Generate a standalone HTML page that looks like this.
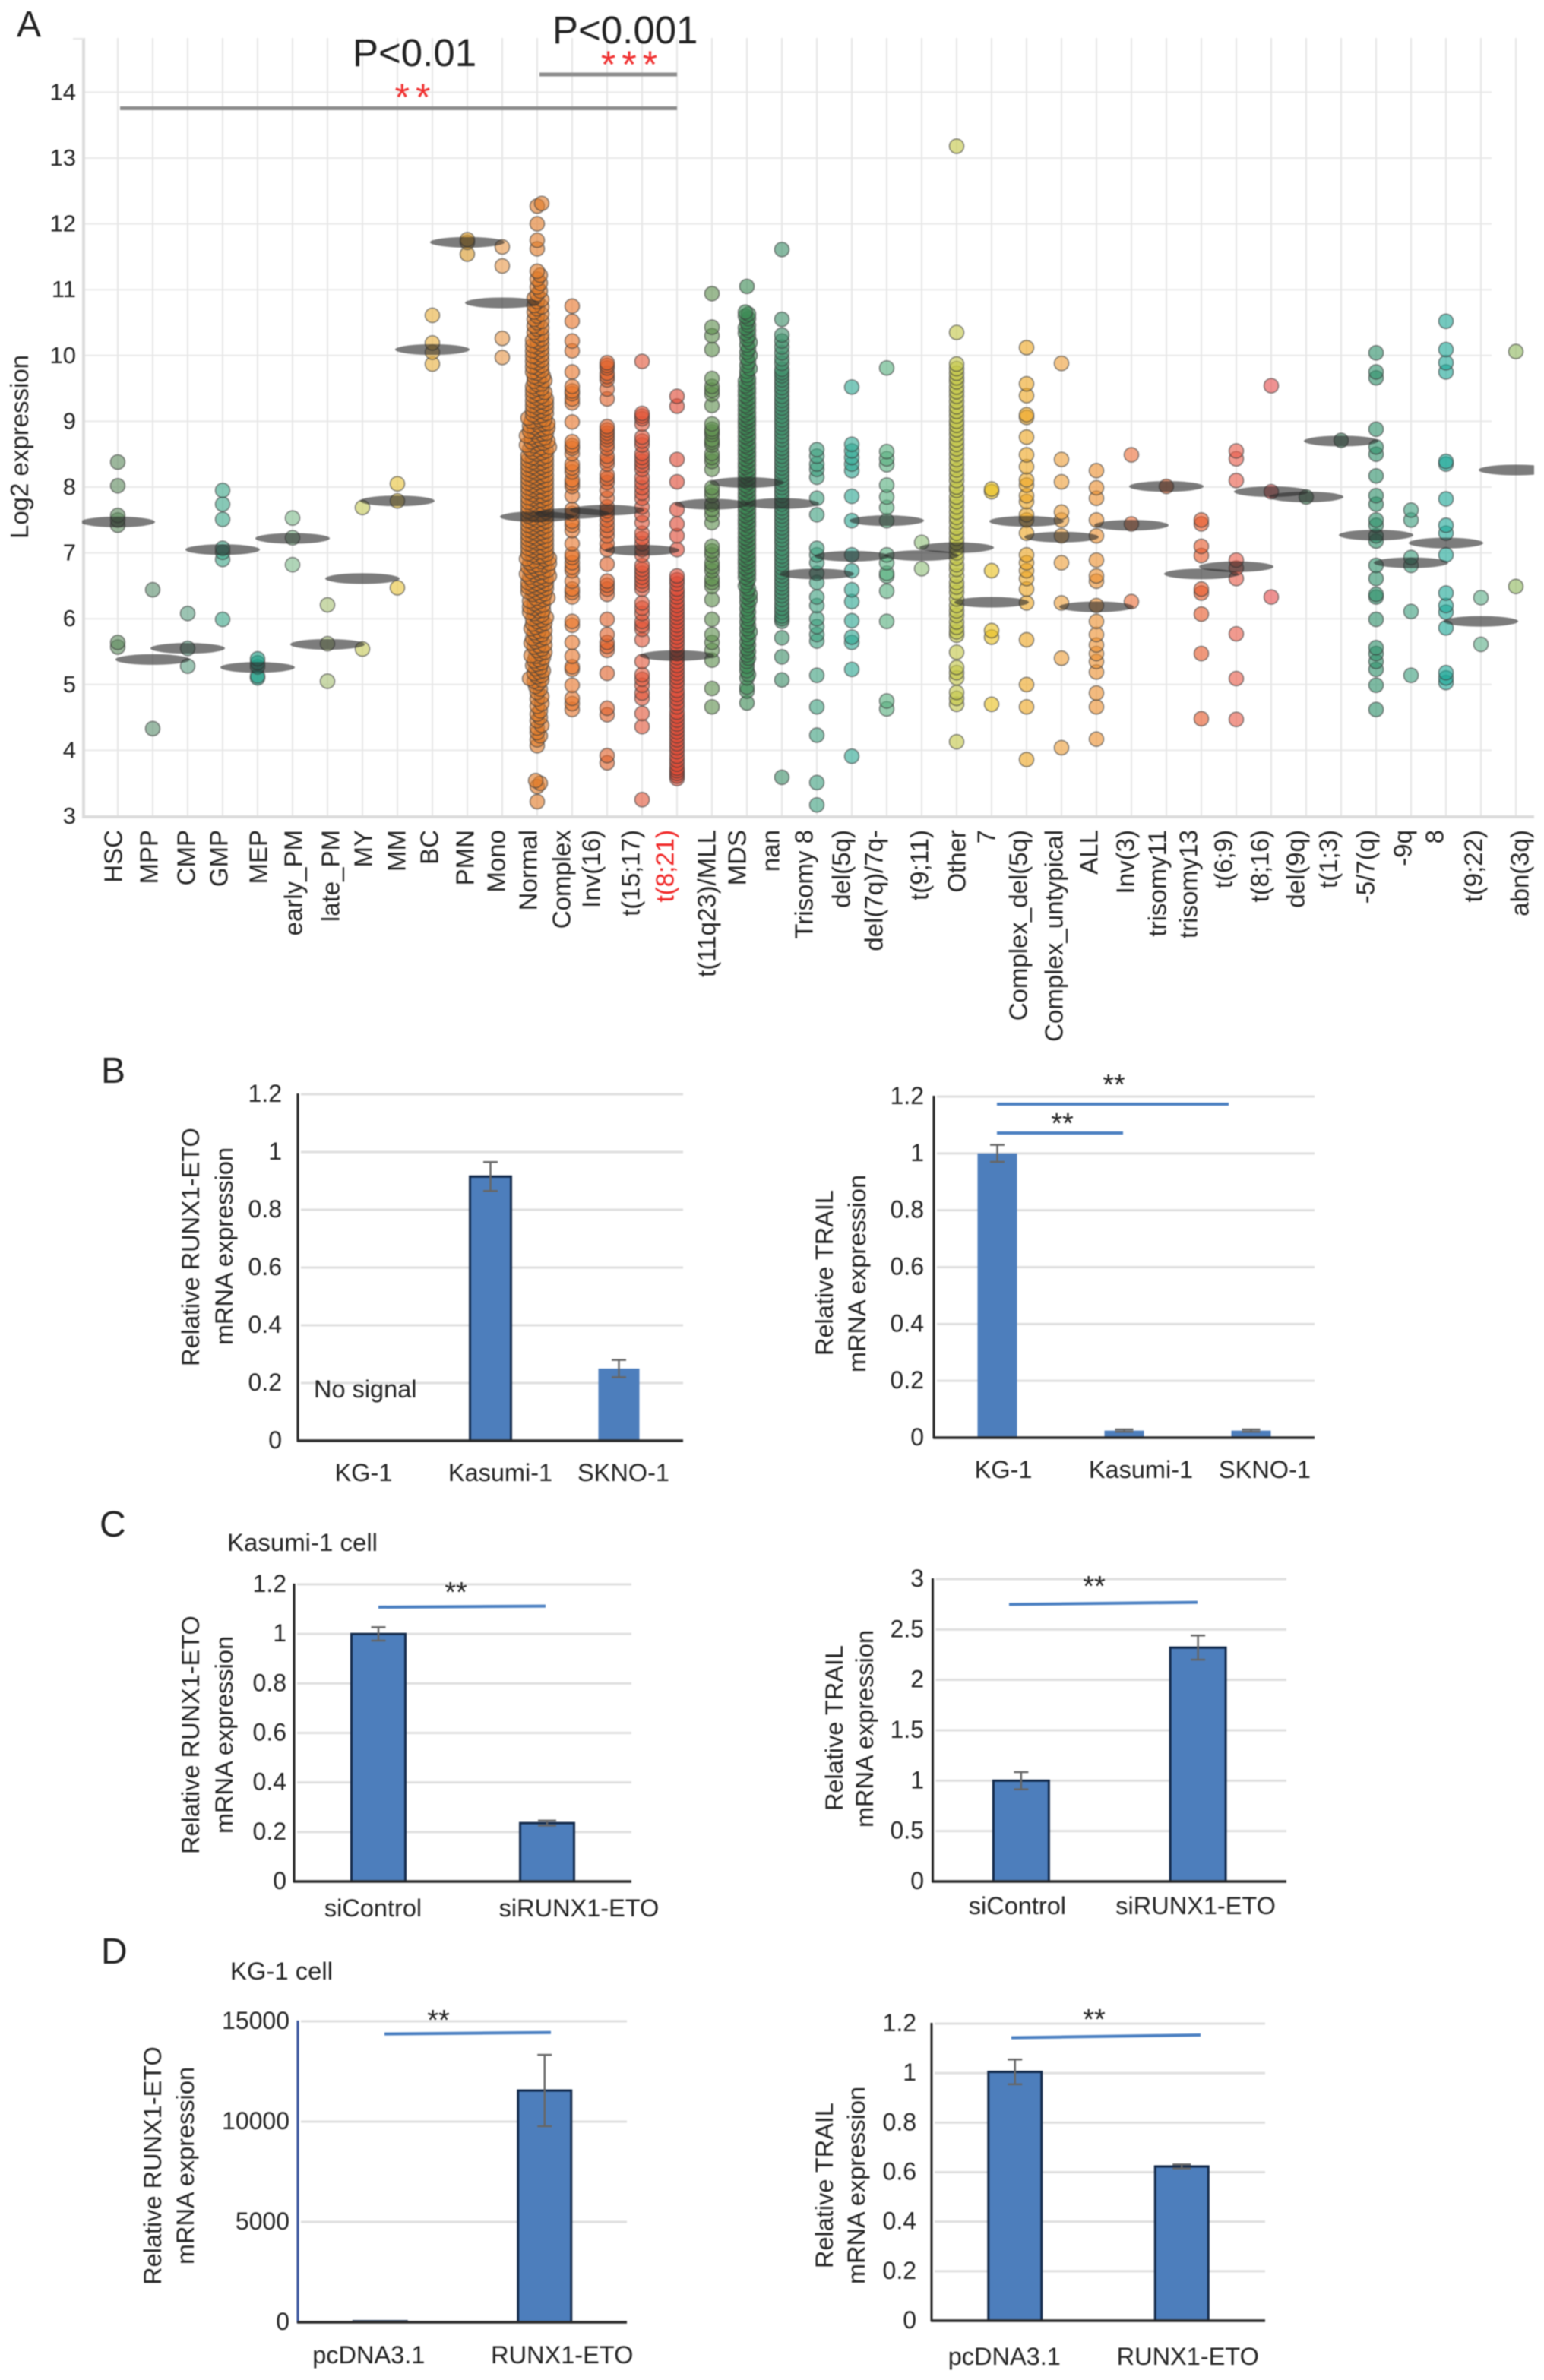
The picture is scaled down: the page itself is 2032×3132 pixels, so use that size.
<!DOCTYPE html>
<html lang="en">
<head>
<meta charset="utf-8">
<title>RUNX1-ETO and TRAIL expression figure</title>
<style>
html,body{margin:0;padding:0;background:#fff;width:2032px;height:3132px;overflow:hidden}
svg{display:block;filter:blur(0.7px)}
text{font-family:"Liberation Sans",sans-serif;fill:#222}
</style>
</head>
<body>
<svg id="fig" xmlns="http://www.w3.org/2000/svg" width="2032" height="3132" viewBox="0 0 2032 3132">
<rect x="0" y="0" width="2032" height="3132" fill="#fff"/>
<defs><clipPath id="plotClip"><rect x="108" y="40" width="1911" height="1040"/></clipPath></defs>
</svg>
<script>
/* ---------- Panel A data ---------- */
const categories = ["HSC","MPP","CMP","GMP","MEP","early_PM","late_PM","MY","MM","BC","PMN","Mono","Normal","Complex","Inv(16)","t(15;17)","t(8;21)","t(11q23)/MLL","MDS","nan","Trisomy 8","del(5q)","del(7q)/7q-","t(9;11)","Other","7","Complex_del(5q)","Complex_untypical","ALL","Inv(3)","trisomy11","trisomy13","t(6;9)","t(8;16)","del(9q)","t(1;3)","-5/7(q)","-9q","8","t(9;22)","abn(3q)"];
const yTickLabels = [14,13,12,11,10,9,8,7,6,5,4,3];
const groupMeans = [7.47,5.38,5.55,7.05,5.26,7.22,5.61,6.61,7.79,10.09,11.72,10.8,7.55,7.6,7.65,7.04,5.44,7.74,8.07,7.75,6.68,6.95,7.49,6.96,7.08,6.25,7.48,7.24,6.18,7.42,8.01,6.68,6.79,7.93,7.85,8.7,7.27,6.85,7.15,5.96,8.26];

const hsc = [8.38,8.02,7.57,7.42,7.5,5.64,5.57];
const mpp = [6.44,4.33];
const cmp = [6.08,5.55,5.28];
const gmp = [7.95,7.74,7.51,7.07,7.01,6.9,5.99];
const mep = [5.39,5.33,5.27,5.13,5.1];
const earlyPm = [7.53,7.23,6.82];
const latePm = [6.21,5.62,5.05];
const my = [7.69,5.54];
const mm = [8.05,7.79,6.47];
const bc = [10.61,10.19,10.05,9.87];
const pmn = [11.76,11.72,11.54];
const mono = [11.65,11.36,10.26,9.97];
const normal = [3.22,3.45,3.5,3.54,4.07,4.16,4.22,4.27,4.34,4.38,4.45,4.5,4.55,4.6,4.67,4.71,4.78,4.82,4.88,4.93,4.97,
5.02,5.05,5.09,5.14,5.17,5.21,5.26,5.29,5.33,5.38,5.41,5.44,5.49,5.52,5.57,5.6,5.63,5.68,5.71,5.74,5.79,5.82,5.85,5.9,5.93,5.96,6.0,6.03,6.06,6.1,6.13,6.16,6.19,6.23,6.26,6.29,6.32,6.35,6.38,
6.41,6.43,6.46,6.48,6.51,6.53,6.55,6.58,6.6,6.63,6.65,6.68,6.7,6.72,6.75,6.77,6.8,6.82,6.85,6.87,6.9,6.92,6.94,6.97,6.99,7.02,7.04,7.07,7.09,7.11,7.14,7.16,7.19,7.21,7.24,7.26,7.28,7.31,7.33,7.36,7.38,7.41,7.43,7.45,7.48,7.5,7.53,7.55,7.58,7.6,7.62,7.65,7.67,7.7,7.72,7.75,7.77,7.79,7.82,7.84,7.87,7.89,7.92,7.94,7.96,7.99,8.01,8.04,8.06,8.09,8.11,8.13,8.16,8.18,8.21,8.23,8.26,8.28,8.3,8.33,8.35,8.38,8.4,8.43,8.45,8.48,
8.52,8.55,8.58,8.61,8.64,8.67,8.7,8.73,8.76,8.79,8.82,8.85,8.88,8.91,8.94,8.97,9.0,9.03,9.07,9.1,9.14,9.17,9.21,9.24,9.28,9.31,9.35,9.38,9.42,9.46,9.49,9.53,9.57,9.61,9.65,9.69,9.73,9.77,9.81,9.85,9.89,9.93,9.97,10.01,10.05,10.09,10.13,10.17,10.21,10.25,10.3,10.35,10.4,10.45,10.5,10.55,10.6,10.66,10.71,10.76,10.82,10.87,10.93,10.98,11.04,11.1,11.16,11.22,11.28,11.62,11.75,12.0,12.27,12.31,
5.07,5.12,5.19,5.24,5.31,5.36,5.43,5.47,5.54,5.59,5.65,5.7,5.76,5.81,5.87,5.92,5.98,6.02,6.08,6.12,6.18,6.21,6.27,6.31,6.37,6.4,6.44,6.47,6.5,6.54,6.57,6.61,6.64,6.67,6.71,6.74,6.78,6.81,6.84,6.88,6.91,6.95,6.98,7.01,7.05,7.08,7.12,7.15,7.18,7.22,7.25,7.29,7.32,7.35,7.39,7.42,7.46,7.49,7.52,7.56,7.59,7.63,7.66,7.69,7.73,7.76,7.8,7.83,7.86,7.9,7.93,7.97,8.0,8.03,8.07,8.1,8.14,8.17,8.2,8.24,8.27,8.31,8.34,8.37,8.41,8.44,8.47,8.5,8.53,8.57,8.6,8.63,8.66,8.69,8.72,8.75,8.78,8.81,8.84,8.87,8.9,8.93,8.96,8.99,9.02,9.05,9.09,9.12,9.16,9.2,9.23,9.27,9.3,9.34,9.39,9.44,9.5,9.56,9.62,9.68,9.75,9.83,9.91,9.99,10.07,10.15,10.23,10.32,10.42,10.52,10.63,10.74,10.85];
const complexKaryotype = [10.75,10.52,10.22,10.07,9.75,9.53,9.46,9.34,9.28,8.99,8.69,8.59,8.51,8.35,8.23,8.11,8.01,7.87,7.66,7.42,7.34,7.14,6.93,6.85,6.73,6.57,6.45,6.33,5.96,5.9,5.64,5.43,5.23,4.99,4.79,4.71,4.62,9.42,8.63,8.29,8.06,7.6,7.48,6.98,6.78,6.4,5.27];
const inv16 = [9.89,9.81,9.73,9.63,9.49,9.34,8.92,8.82,8.72,8.59,8.47,8.35,8.19,8.07,7.95,7.83,7.7,7.58,7.42,7.26,7.14,7.05,6.83,6.57,6.45,6.37,5.99,5.76,5.64,5.52,5.17,4.64,4.54,3.92,3.81,9.85,9.68,8.87,8.77,8.65,8.41,8.13,7.64,7.5,7.34,6.51,5.58];
const t1517 = [9.91,9.12,9.04,8.96,8.76,8.64,8.51,8.39,8.27,8.15,7.99,7.83,7.7,7.58,7.46,7.3,7.14,6.97,6.81,6.69,6.57,6.45,6.24,6.08,5.96,5.84,5.68,5.35,5.15,4.99,4.87,4.79,4.56,4.36,3.25,9.08,8.7,8.45,8.33,8.07,7.91,7.22,7.05,6.75,6.63,6.51,6.16,5.9,5.08];
const t821 = [9.38,9.23,8.42,8.08,7.66,7.44,7.26,7.05,6.65,6.53,6.45,6.33,6.2,6.08,5.96,5.84,5.72,5.6,5.47,5.35,5.23,5.11,4.99,4.91,4.79,4.66,4.58,4.46,4.34,4.22,4.1,3.98,3.85,3.73,3.65,3.57,6.59,6.39,6.26,6.14,6.02,5.9,5.78,5.66,5.53,5.41,5.29,5.17,5.05,4.85,4.72,4.52,4.4,4.28,4.16,4.04,3.91,3.79,3.69,3.61];
const mll = [10.94,10.43,10.3,10.09,9.65,9.53,9.41,9.24,8.96,8.88,8.8,8.72,8.64,8.51,8.39,8.27,7.99,7.87,7.74,7.58,7.46,7.1,6.97,6.85,6.73,6.61,6.49,6.29,5.99,5.76,5.64,5.52,5.37,4.94,4.66,9.47,8.84,8.68,8.45,7.93,7.66,7.03,6.79,6.55];
const mds = [11.05,10.66,10.6,10.51,10.42,10.34,10.25,10.16,10.05,9.96,9.85,9.76,9.65,9.58,9.5,9.43,9.35,9.28,9.21,9.13,9.06,9.0,8.94,8.87,8.8,8.74,8.66,8.6,8.53,8.47,8.4,8.33,8.26,8.2,8.13,8.07,8.0,7.94,7.87,7.81,7.74,7.67,7.6,7.54,7.47,7.41,7.33,7.27,7.2,7.13,7.07,7.0,6.93,6.87,6.8,6.73,6.67,6.6,6.5,6.41,6.33,6.25,6.15,6.05,5.95,5.85,5.76,5.65,5.55,5.45,5.35,5.21,5.1,4.96,4.9,4.72,
10.63,10.56,10.46,10.38,10.3,10.2,10.1,10.0,9.9,9.8,9.7,9.61,9.54,9.46,9.39,9.31,9.24,9.17,9.1,9.03,8.97,8.91,8.84,8.77,8.7,8.63,8.56,8.5,8.43,8.36,8.3,8.23,8.17,8.1,8.03,7.97,7.9,7.84,7.77,7.7,7.64,7.57,7.5,7.44,7.37,7.3,7.23,7.17,7.1,7.03,6.97,6.9,6.84,6.77,6.7,6.63,6.55,6.46,6.37,6.29,6.2,6.1,6.0,5.9,5.8,5.7,5.6,5.5,5.4,5.28,5.15];
const nan = [11.61,10.55,10.31,10.22,10.13,10.04,9.88,9.79,9.69,9.57,9.45,9.32,9.2,9.08,8.96,8.84,8.72,8.59,8.47,8.35,8.23,8.11,7.99,7.87,7.74,7.62,7.5,7.38,7.26,7.14,7.01,6.89,6.77,6.65,6.53,6.41,6.29,6.16,6.04,5.96,5.71,5.42,5.07,3.59,9.95,9.74,9.63,9.51,9.38,9.26,9.14,9.02,8.9,8.78,8.65,8.53,8.41,8.29,8.17,8.05,7.93,7.8,7.68,7.56,7.44,7.32,7.2,7.07,6.95,6.83,6.71,6.59,6.47,6.35,6.22,6.1,6.0];
const trisomy8 = [8.57,8.47,8.35,8.27,8.15,7.83,7.58,7.07,6.97,6.85,6.69,6.55,6.33,6.2,6.0,5.88,5.76,5.66,5.14,4.66,4.23,3.51,3.17];
const del5q = [9.52,8.65,8.55,8.45,8.35,8.25,7.86,7.49,6.97,6.73,6.44,6.26,5.97,5.72,5.64,5.23,3.91];
const del7q = [9.81,8.54,8.43,8.34,8.03,7.85,7.69,7.49,6.97,6.85,6.69,6.65,6.42,5.96,4.75,4.63];
const t911 = [7.16,6.76];
const other = [13.18,10.35,9.87,9.8,9.73,9.66,9.6,9.52,9.45,9.38,9.3,9.22,9.15,9.08,9.0,8.94,8.87,8.8,8.72,8.65,8.58,8.5,8.42,8.34,8.26,8.18,8.1,8.0,7.95,7.85,7.78,7.7,7.62,7.54,7.47,7.38,7.3,7.22,7.15,7.07,7.0,6.92,6.82,6.75,6.65,6.55,6.48,6.4,6.3,6.2,6.12,6.05,5.95,5.87,5.8,5.75,5.49,5.26,5.18,5.1,4.88,4.79,4.7,4.13];
const seven = [7.97,7.93,6.73,5.82,5.72,4.7];
const complexDel5q = [10.12,9.57,9.39,9.1,9.06,8.76,8.49,8.31,8.11,8.03,7.87,7.78,7.58,7.5,7.3,6.97,6.85,6.73,6.61,6.45,6.24,5.68,5.0,4.66,3.86];
const complexUntypical = [9.88,8.42,8.08,7.62,7.5,7.26,6.85,6.24,5.4,4.04];
const all = [8.25,7.99,7.83,7.5,7.26,6.89,6.65,6.57,6.2,5.96,5.76,5.6,5.47,5.35,5.19,4.87,4.66,4.17];
const inv3 = [8.49,7.44,6.26];
const trisomy11 = [8.01];
const trisomy13 = [7.5,7.44,7.1,6.96,6.45,6.39,6.07,5.47,4.48];
const t69 = [8.55,8.43,8.1,6.89,6.77,6.61,5.77,5.09,4.47];
const t816 = [9.54,7.93,6.33];
const del9q = [7.85];
const t13 = [8.71];
const minus57q = [10.04,9.75,9.66,8.88,8.61,8.5,8.17,7.87,7.74,7.5,7.42,7.26,7.18,6.81,6.61,6.37,6.33,5.99,5.56,5.47,5.35,5.23,4.99,4.62];
const minus9q = [7.65,7.5,6.93,6.81,6.11,5.14];
const eight = [10.52,10.09,9.89,9.75,8.39,8.35,7.82,7.42,7.3,6.97,6.39,6.2,6.1,5.86,5.18,5.1,5.03];
const t922 = [6.32,5.61];
const abn3q = [10.06,6.49];

const groupSeries = [hsc,mpp,cmp,gmp,mep,earlyPm,latePm,my,mm,bc,pmn,mono,normal,complexKaryotype,inv16,t1517,t821,mll,mds,nan,trisomy8,del5q,del7q,t911,other,seven,complexDel5q,complexUntypical,all,inv3,trisomy11,trisomy13,t69,t816,del9q,t13,minus57q,minus9q,eight,t922,abn3q];

/* ---------- Bar chart data ---------- */
const b1Categories = ["KG-1","Kasumi-1","SKNO-1"];
const b1Values = [0,0.915,0.25];
const b1Errors = [0,0.05,0.03];
const b1Ticks = [0,0.2,0.4,0.6,0.8,1,1.2];

const b2Categories = ["KG-1","Kasumi-1","SKNO-1"];
const b2Values = [1,0.025,0.025];
const b2Errors = [0.03,0.004,0.004];
const b2Ticks = [0,0.2,0.4,0.6,0.8,1,1.2];

const c1Categories = ["siControl","siRUNX1-ETO"];
const c1Values = [1,0.236];
const c1Errors = [0.027,0.01];
const c1Ticks = [0,0.2,0.4,0.6,0.8,1,1.2];

const c2Categories = ["siControl","siRUNX1-ETO"];
const c2Values = [1,2.32];
const c2Errors = [0.085,0.12];
const c2Ticks = [0,0.5,1,1.5,2,2.5,3];

const d1Categories = ["pcDNA3.1","RUNX1-ETO"];
const d1Values = [50,11550];
const d1Errors = [0,1780];
const d1Ticks = [0,5000,10000,15000];

const d2Categories = ["pcDNA3.1","RUNX1-ETO"];
const d2Values = [1.005,0.623];
const d2Errors = [0.05,0.008];
const d2Ticks = [0,0.2,0.4,0.6,0.8,1,1.2];

/* ---------- Styling / layout for panel A ---------- */
const groupColors = ["#5f8a5f","#5d9070","#5fa085","#3fa88a","#1f9e86","#7fbb8c","#a9c178","#c6c95a","#e9c43c","#e9b03f","#d99a2c","#e89a4c","#e07a28","#e8762c","#e0622c","#e2573a","#df4b36","#5f8f4f","#3d8a55","#3f8f6a","#3fa080","#2fa893","#58b080","#93c27c","#c4c648","#e8c020","#eda624","#ee9f3c","#ec8f30","#ec6f3a","#c8501f","#e65a2c","#e85c4a","#e54f4f","#3a7a50","#3a7a5a","#2f8f6a","#3fa080","#1fa898","#5fb08a","#8fb85f"];
const labelNudge = [-6,-5,-2,-5,1,1,4,1,-1,-4,-3,-8,-12,-14,-21,-15,-16,-7,-13,-15,-17,-14,-17,-3,0,-7,-11,-10,-10,-8,-12,-17,-17,-15,-14,-17,-14,-11,-15,-10,5];
const swarmSpacing = {12:5.6, 18:4.5};

const svg = document.getElementById('fig');
const NS = 'http://www.w3.org/2000/svg';

function mk(tag, attrs, parent) {
  const el = document.createElementNS(NS, tag);
  for (const k in attrs) el.setAttribute(k, attrs[k]);
  (parent || svg).appendChild(el);
  return el;
}
function group(name, parent) {
  const g = mk('g', {}, parent);
  
  
  return g;
}
function label(parent, name, str, attrs) {
  const t = mk('text', attrs, parent);
  t.textContent = str;
  
  
  return t;
}
function line(parent, name, x1, y1, x2, y2, color, width) {
  const l = mk('line', {x1, y1, x2, y2, stroke: color, 'stroke-width': width}, parent);
  
  
  return l;
}
function slug(s) { return String(s).toLowerCase().replace(/[^a-z0-9]+/g, '-').replace(/^-|-$/g, ''); }

/* ---------- Panel A ---------- */
const X = i => 155 + i * 46;
const Y = v => 121.4 + (14 - v) * 86.6;

function swarm(values, spacing) {
  const sorted = values.slice().sort((a, b) => a - b);
  const placed = [];
  const step = 2;
  sorted.forEach(v => {
    const py = Y(v);
    let off = 0;
    if (spacing > 0) {
      for (let k = 0; k < 60; k++) {
        off = (k % 2 ? 1 : -1) * Math.ceil(k / 2) * step;
        const clash = placed.some(p => (p.off - off) ** 2 + (p.y - py) ** 2 < spacing * spacing);
        if (!clash) break;
      }
    }
    placed.push({off, y: py, v});
  });
  return placed;
}

(function drawPanelA() {
  const panel = group('panel-a');
  label(panel, 'panel-a-letter', 'A', {x: 22, y: 48, 'font-size': 48});

  const grid = group('panel-a-grid', panel);
  yTickLabels.forEach(v => {
    line(grid, 'gridline-y-' + v, 110, Y(v), 1963, Y(v), '#e9e9e9', 2);
  });
  categories.forEach((c, i) => {
    line(grid, 'gridline-x-' + slug(c), X(i), 50, X(i), 1073, '#e6e6e6', 2);
  });
  line(panel, 'y-axis-line', 110, 50, 110, 1075, '#dcdcdc', 4);
  line(panel, 'y-axis-top-tick', 96, 51, 110, 51, '#e6e6e6', 2);
  line(panel, 'x-axis-line', 108, 1075, 2019, 1075, '#dcdcdc', 4);

  yTickLabels.forEach(v => {
    label(panel, 'y-tick-' + v, v, {x: 100, y: Y(v) + 10, 'text-anchor': 'end', 'font-size': 31});
  });
  label(panel, 'y-axis-title', 'Log2 expression', {
    'text-anchor': 'middle', 'font-size': 33, textLength: 242, lengthAdjust: 'spacingAndGlyphs',
    transform: 'translate(37,588) rotate(-90)'
  });

  const dots = group('panel-a-points', panel);
  dots.setAttribute('clip-path', 'url(#plotClip)');
  groupSeries.forEach((vals, i) => {
    const g = group('points-' + slug(categories[i]), dots);
    swarm(vals, swarmSpacing[i] || 0).forEach(p => {
      const c = mk('circle', {
        cx: X(i) + p.off, cy: p.y, r: 9.5,
        fill: groupColors[i], 'fill-opacity': 0.62,
        stroke: '#3c3c3c', 'stroke-opacity': 0.6, 'stroke-width': 1.6
      }, g);
      
      
    });
  });

  const means = group('panel-a-group-means', panel);
  means.setAttribute('clip-path', 'url(#plotClip)');
  groupMeans.forEach((m, i) => {
    const e = mk('ellipse', {cx: X(i), cy: Y(m), rx: 49, ry: 7, fill: '#2c2c2c', 'fill-opacity': 0.62}, means);
    
    
  });

  categories.forEach((c, i) => {
    const red = c === 't(8;21)';
    const t = label(panel, 'x-label-' + slug(c), c, {
      'text-anchor': 'end', 'font-size': 33,
      transform: 'translate(' + (X(i) + labelNudge[i] + 11.5) + ',1092) rotate(-90)'
    });
    if (red) t.style.fill = '#f02424';
  });

  line(panel, 'significance-bar-normal-vs-all', 158, 142.5, 891, 142.5, '#8c8c8c', 5);
  line(panel, 'significance-bar-complex-vs-t821', 710, 98, 891, 98, '#8c8c8c', 5);
  label(panel, 'p-value-001', 'P<0.01', {x: 464, y: 87, 'font-size': 51});
  label(panel, 'p-value-0001', 'P<0.001', {x: 727, y: 57, 'font-size': 51});
  const s1 = label(panel, 'significance-stars-double', '**', {x: 547, y: 145, 'text-anchor': 'middle', 'font-size': 50, 'letter-spacing': 8});
  s1.style.fill = '#f03030';
  const s2 = label(panel, 'significance-stars-triple', '***', {x: 832, y: 102, 'text-anchor': 'middle', 'font-size': 50, 'letter-spacing': 8});
  s2.style.fill = '#f03030';
})();

/* ---------- Bar panels ---------- */
function drawBar(cfg) {
  const g = group(cfg.name);
  const maxV = cfg.ticks[cfg.ticks.length - 1];
  const y = v => cfg.base - (v / maxV) * (cfg.base - cfg.top);
  const band = (cfg.right - cfg.left) / cfg.categories.length;
  const cx = i => cfg.left + band * (i + 0.5);

  cfg.ticks.forEach(t => {
    if (t > 0) line(g, cfg.name + '-gridline-' + slug(t), cfg.left + 4, y(t), cfg.right, y(t), '#dfdfdf', 3);
    label(g, cfg.name + '-y-tick-' + slug(t), t, {x: cfg.tickRight, y: y(t) + 10, 'text-anchor': 'end', 'font-size': 32});
  });

  cfg.categories.forEach((c, i) => {
    const v = cfg.values[i];
    if (v <= 0) return;
    const outlined = cfg.outline[i];
    const r = mk('rect', {
      x: cx(i) - cfg.barWidth / 2, y: y(v), width: cfg.barWidth, height: cfg.base - y(v),
      fill: '#4d7ebc', stroke: outlined ? '#12294a' : 'none', 'stroke-width': outlined ? 3 : 0
    }, g);
    
    
    const e = cfg.errors[i];
    if (e > 0) {
      const cap = e * (cfg.base - cfg.top) / maxV < 4 ? 12 : 9.5;
      line(g, cfg.name + '-error-stem-' + slug(c), cx(i), y(v + e), cx(i), y(v - e), '#666', 2.5);
      line(g, cfg.name + '-error-cap-top-' + slug(c), cx(i) - cap, y(v + e), cx(i) + cap, y(v + e), '#666', 2.5);
      line(g, cfg.name + '-error-cap-bottom-' + slug(c), cx(i) - cap, y(v - e), cx(i) + cap, y(v - e), '#666', 2.5);
    }
  });

  line(g, cfg.name + '-y-axis', cfg.left, cfg.top - 1, cfg.left, cfg.base + 1, cfg.yAxisColor || '#222', 3);
  line(g, cfg.name + '-x-axis', cfg.left - 1, cfg.base, cfg.right, cfg.base, '#2a2a2a', 3.5);

  cfg.categories.forEach((c, i) => {
    label(g, cfg.name + '-x-label-' + slug(c), c, {x: cx(i) + cfg.labelShift[i], y: cfg.labelBase, 'text-anchor': 'middle', 'font-size': 32.5});
  });

  cfg.title.forEach((tt, i) => {
    label(g, cfg.name + '-y-title-line-' + (i + 1), tt.text, {
      'text-anchor': 'middle', 'font-size': 32.5,
      transform: 'translate(' + (tt.x + 11) + ',' + tt.y + ') rotate(-90)'
    });
  });

  (cfg.brackets || []).forEach((b, i) => {
    line(g, cfg.name + '-significance-line-' + (i + 1), b.x1, b.y1, b.x2, b.y2, '#4a7fc1', 4);
    label(g, cfg.name + '-significance-stars-' + (i + 1), '**', {x: b.sx, y: b.sy + 19, 'text-anchor': 'middle', 'font-size': 38});
  });
}

label(svg, 'panel-b-letter', 'B', {x: 133, y: 1425, 'font-size': 48});
label(svg, 'panel-c-letter', 'C', {x: 131, y: 2022, 'font-size': 48});
label(svg, 'panel-d-letter', 'D', {x: 133, y: 2584, 'font-size': 48});
label(svg, 'panel-c-subtitle', 'Kasumi-1 cell', {x: 299, y: 2041, 'font-size': 32, textLength: 198, lengthAdjust: 'spacingAndGlyphs'});
label(svg, 'panel-d-subtitle', 'KG-1 cell', {x: 303, y: 2605, 'font-size': 32, textLength: 135, lengthAdjust: 'spacingAndGlyphs'});

drawBar({name: 'chart-b-runx1-eto', categories: b1Categories, values: b1Values, errors: b1Errors, ticks: b1Ticks,
  left: 392, right: 899, top: 1440, base: 1896, tickRight: 371, barWidth: 54, outline: [false, true, false],
  labelShift: [2, 13, 6], labelBase: 1949,
  title: [{text: 'Relative RUNX1-ETO', x: 251, y: 1641}, {text: 'mRNA expression', x: 295, y: 1640}]});
label(svg, 'no-signal-annotation', 'No signal', {x: 413, y: 1839, 'font-size': 32.5});

drawBar({name: 'chart-b-trail', categories: b2Categories, values: b2Values, errors: b2Errors, ticks: b2Ticks,
  left: 1229, right: 1730, top: 1443, base: 1892, tickRight: 1216, barWidth: 52, outline: [false, false, false],
  labelShift: [8, 22, 18], labelBase: 1945,
  title: [{text: 'Relative TRAIL', x: 1085, y: 1675}, {text: 'mRNA expression', x: 1128, y: 1676}],
  brackets: [{x1: 1312, y1: 1453, x2: 1617, y2: 1453, sx: 1466, sy: 1421},
             {x1: 1312, y1: 1491, x2: 1478, y2: 1491, sx: 1398, sy: 1472}]});

drawBar({name: 'chart-c-runx1-eto', categories: c1Categories, values: c1Values, errors: c1Errors, ticks: c1Ticks,
  left: 387, right: 831, top: 2085, base: 2476, tickRight: 377, barWidth: 71, outline: [true, true],
  labelShift: [-7, 42], labelBase: 2522,
  title: [{text: 'Relative RUNX1-ETO', x: 251, y: 2283}, {text: 'mRNA expression', x: 295, y: 2283}],
  brackets: [{x1: 498, y1: 2115, x2: 718, y2: 2113.6, sx: 600, sy: 2089}]});

drawBar({name: 'chart-c-trail', categories: c2Categories, values: c2Values, errors: c2Errors, ticks: c2Ticks,
  left: 1227.5, right: 1693, top: 2078, base: 2476, tickRight: 1216, barWidth: 73, outline: [true, true],
  labelShift: [-5, -3], labelBase: 2519,
  title: [{text: 'Relative TRAIL', x: 1098, y: 2274}, {text: 'mRNA expression', x: 1138, y: 2275}],
  brackets: [{x1: 1328, y1: 2111.4, x2: 1576, y2: 2108.6, sx: 1440, sy: 2081}]});

drawBar({name: 'chart-d-runx1-eto', categories: d1Categories, values: d1Values, errors: d1Errors, ticks: d1Ticks,
  left: 392, right: 825, top: 2660, base: 3056, tickRight: 381, barWidth: 70, outline: [true, true], yAxisColor: '#34509a',
  labelShift: [-15, 23], labelBase: 3110,
  title: [{text: 'Relative RUNX1-ETO', x: 201, y: 2850}, {text: 'mRNA expression', x: 244, y: 2850}],
  brackets: [{x1: 506, y1: 2676.6, x2: 725, y2: 2674.8, sx: 577, sy: 2652}]});

drawBar({name: 'chart-d-trail', categories: d2Categories, values: d2Values, errors: d2Errors, ticks: d2Ticks,
  left: 1226, right: 1665, top: 2663, base: 3054, tickRight: 1206, barWidth: 70, outline: [true, true],
  labelShift: [-14, 8], labelBase: 3112,
  title: [{text: 'Relative TRAIL', x: 1085, y: 2876}, {text: 'mRNA expression', x: 1127, y: 2876}],
  brackets: [{x1: 1331, y1: 2681.6, x2: 1580, y2: 2678, sx: 1440, sy: 2651}]});
</script>
</body>
</html>
